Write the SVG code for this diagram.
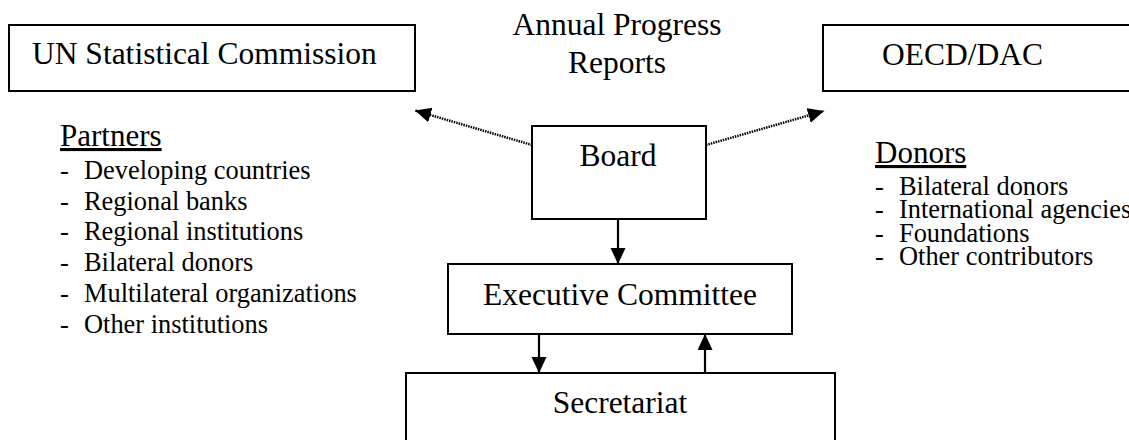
<svg xmlns="http://www.w3.org/2000/svg" width="1129" height="440" viewBox="0 0 1129 440">
<style>
.box{fill:#fff;stroke:#000;stroke-width:2}
.t{font-family:"Liberation Serif","Times New Roman",serif;font-size:31.5px;fill:#000}
.h{font-family:"Liberation Serif","Times New Roman",serif;font-size:31px;fill:#000;text-decoration:underline}
.l{font-family:"Liberation Serif","Times New Roman",serif;font-size:26.4px;fill:#000}
.c{text-anchor:middle}
.solid{stroke:#000;stroke-width:2.2;fill:none}
.dot{stroke:#000;stroke-width:2.5;fill:none;stroke-dasharray:1.5 1}
</style>
<defs>
<marker id="ah" markerUnits="userSpaceOnUse" markerWidth="18" markerHeight="16" refX="16" refY="7.5" orient="auto">
<path d="M0,0 L16,7.5 L0,15 z" fill="#000"/>
</marker>
</defs>
<rect width="1129" height="440" fill="#fff"/>
<g id="connectors">
<line class="dot" x1="532" y1="145" x2="415" y2="110.5" marker-end="url(#ah)"/>
<line class="dot" x1="706" y1="145" x2="824" y2="111" marker-end="url(#ah)"/>
<line class="solid" x1="618" y1="219" x2="618" y2="264" marker-end="url(#ah)"/>
<line class="solid" x1="539" y1="334" x2="539" y2="373" marker-end="url(#ah)"/>
<line class="solid" x1="705" y1="373" x2="705" y2="334" marker-end="url(#ah)"/>
</g>
<g id="un">
<rect class="box" x="9" y="25" width="406" height="66"/>
<text class="t" x="32" y="64">UN Statistical Commission</text>
</g>
<g id="oecd">
<rect class="box" x="823" y="25" width="320" height="66"/>
<text class="t" x="882" y="65">OECD/DAC</text>
</g>
<g id="reports">
<text class="t c" x="617" y="35">Annual Progress</text>
<text class="t c" x="617" y="73">Reports</text>
</g>
<g id="board">
<rect class="box" x="532" y="126" width="174" height="93"/>
<text class="t c" x="618" y="166">Board</text>
</g>
<g id="exec">
<rect class="box" x="448" y="264" width="344" height="70"/>
<text class="t c" x="620" y="305">Executive Committee</text>
</g>
<g id="secretariat">
<rect class="box" x="406" y="373" width="429" height="80"/>
<text class="t c" x="620" y="413">Secretariat</text>
</g>
<g id="partners">
<text class="h" x="60" y="146">Partners</text>
<text class="l"><tspan x="60" y="179">-</tspan><tspan x="84" y="179">Developing countries</tspan></text>
<text class="l"><tspan x="60" y="210">-</tspan><tspan x="84" y="210">Regional banks</tspan></text>
<text class="l"><tspan x="60" y="240">-</tspan><tspan x="84" y="240">Regional institutions</tspan></text>
<text class="l"><tspan x="60" y="271">-</tspan><tspan x="84" y="271">Bilateral donors</tspan></text>
<text class="l"><tspan x="60" y="302">-</tspan><tspan x="84" y="302">Multilateral organizations</tspan></text>
<text class="l"><tspan x="60" y="333">-</tspan><tspan x="84" y="333">Other institutions</tspan></text>
</g>
<g id="donors">
<text class="h" x="875" y="163">Donors</text>
<text class="l"><tspan x="875" y="195">-</tspan><tspan x="899" y="195">Bilateral donors</tspan></text>
<text class="l"><tspan x="875" y="218">-</tspan><tspan x="899" y="218">International agencies</tspan></text>
<text class="l"><tspan x="875" y="242">-</tspan><tspan x="899" y="242">Foundations</tspan></text>
<text class="l"><tspan x="875" y="265">-</tspan><tspan x="899" y="265">Other contributors</tspan></text>
</g>
</svg>
